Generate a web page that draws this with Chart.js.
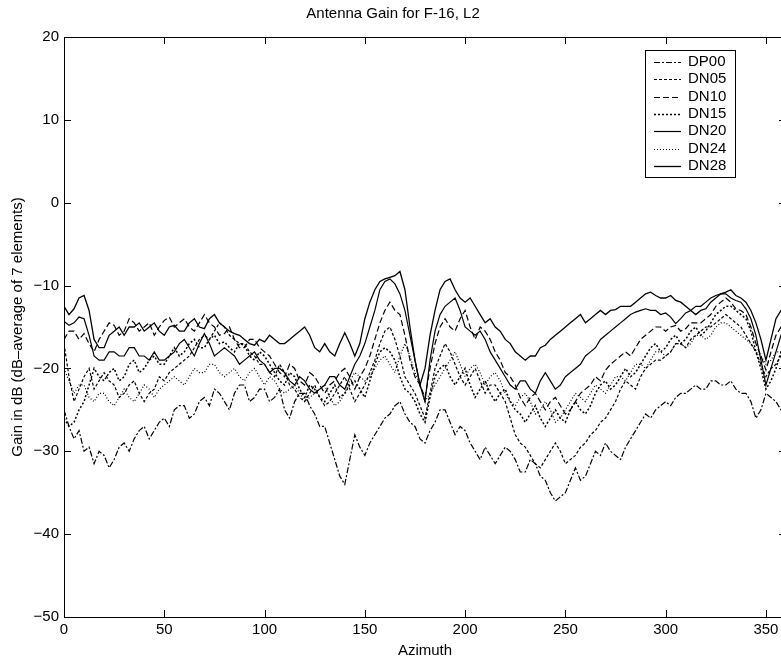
<!DOCTYPE html>
<html lang="en">
<head>
  <meta charset="UTF-8">
  <title>Antenna Gain for F-16, L2</title>
  <script src="https://cdn.jsdelivr.net/npm/chart.js"></script>
  <style>
    html, body {
      margin: 0;
      padding: 0;
      background: #fff;
      width: 781px;
      height: 662px;
      overflow: hidden;
    }
    #wrap {
      width: 800px;
      height: 662px;
    }
  </style>
</head>
<body>
  <div id="wrap">
    <canvas id="gainChart" width="800" height="662"></canvas>
  </div>
  <script>
    // azimuth sampling grid, degrees (every 2.5 deg)
    const azimuth = Array.from({ length: 145 }, (_, i) => i * 2.5);

    const xTicks = [0, 50, 100, 150, 200, 250, 300, 350];
    const yTicks = [-50, -40, -30, -20, -10, 0, 10, 20];

    const labels = ['DP00', 'DN05', 'DN10', 'DN15', 'DN20', 'DN24', 'DN28'];

    // gain in dB, one row = 50 deg
    const dp00 = [
      -25, -27, -28.5, -27.5, -30, -29.5, -31.5, -30, -30.5, -32, -31, -29.5, -29, -30, -28.5, -27.5, -27, -28.5, -27.5, -26.5,
      -26, -27, -25, -24.5, -24.5, -26, -25.5, -24, -23.5, -24.5, -22.5, -23, -24, -25, -23, -22, -22, -24, -23.5, -22.5,
      -22.5, -24, -23.5, -22.5, -25, -26, -24, -23, -23, -24.5, -25.5, -27, -27, -29, -31, -33, -34, -31, -28, -29.5,
      -30.5, -29, -28, -27, -26, -25.5, -24.5, -24, -25.5, -26.5, -27, -28.5, -29, -27.5, -26.5, -25, -25, -26.5, -28, -27,
      -27.5, -29, -30, -31, -29.5, -30.5, -31.5, -30.5, -29.5, -30, -31, -32.5, -32.5, -31, -31.5, -33, -33.5, -35, -36, -35.5,
      -35, -33.5, -32, -33.5, -33, -31.5, -30, -30.5, -29, -30, -30.5, -31, -29.5, -28.5, -27.5, -26.5, -25.5, -26, -25, -24.5,
      -24, -24.5, -23.5, -23, -23, -22.5, -22, -22.5, -22.5, -21.5, -21.5, -22, -22, -21.5, -22.5, -23, -23, -24, -26, -25,
      -23, -23.5, -24, -25, -24.5];
    const dn05 = [
      -17, -21, -24, -22.5, -21, -20, -22.5, -21.5, -20.5, -21.5, -22, -23.5, -23, -22, -21.5, -23, -24, -23, -22.5, -21,
      -21.5, -20.5, -20, -19.5, -19, -18.5, -17.5, -16.5, -16, -16.5, -15.5, -14.5, -15, -16, -16.5, -17, -17, -18, -18.5, -19.5,
      -19.5, -20.5, -21, -19.5, -20.5, -22, -22.5, -23.5, -24, -23, -22, -23.5, -24.5, -24, -23, -22, -21, -22.5, -24, -23,
      -22, -20.5, -19, -17, -15.5, -15, -16.5, -18.5, -21, -22, -23, -24.5, -26, -23, -20, -18.5, -17, -18, -19.5, -21,
      -22, -21, -20, -21.5, -23, -22, -22, -23, -24, -26, -28, -29, -29.5, -30.5, -31.5, -32, -31, -30, -29, -30,
      -31.5, -31, -30.5, -29.5, -29, -28, -27.5, -26.5, -26, -25, -24, -22.5, -21.5, -22, -22.5, -21, -20, -19.5, -19, -19,
      -18.5, -18, -17, -17, -17.5, -16.5, -16, -15.5, -15, -15, -14.5, -14, -13.5, -14, -14.5, -15, -16, -17, -18, -19.5,
      -21, -20, -19.5, -18.5, -18];
    const dn10 = [
      -16.5, -15.5, -15.5, -16.5, -15.8, -17, -18, -16.5, -15.5, -14.5, -14.8, -16, -15.5, -14, -14.5, -15.5, -15, -14.5, -16, -15,
      -14.2, -13.8, -15, -14.5, -14, -15, -15.5, -14.5, -13.5, -14.5, -15, -16, -15.8, -15, -16.5, -17.5, -17.5, -16.5, -16.5, -17.5,
      -18, -18.5, -19.5, -20.5, -21, -19.5, -20, -21.5, -22, -20.5, -21, -22, -23, -22, -21.5, -20.5, -20, -21, -22.5, -21,
      -20, -18.5, -16.5, -14.5, -13, -12, -13, -13.5, -16, -19, -21, -22, -23.5, -20, -17, -15, -14, -15, -15.5, -14,
      -13, -15, -16.5, -15, -15.5, -16.5, -18, -19, -20.5, -21, -22, -23.5, -24.5, -23.5, -23, -24, -25, -24, -23.5, -24.5,
      -25.5, -25, -24, -23, -22.5, -22, -21, -21.5, -20.2, -19.5, -19, -18.5, -18, -18.5, -17.5, -16.5, -16, -15.5, -15, -15,
      -15.5, -15, -14.8, -15.5, -15.2, -14.5, -14.5, -14.5, -14, -13.5, -12.5, -12, -11.5, -12, -12.8, -13, -13.5, -15, -17, -18.5,
      -20.2, -18, -16, -15, -15.3];
    const dn15 = [
      -26, -27, -26.5, -25, -24, -22, -20, -21, -21.5, -20.5, -20, -21.5, -21, -19.5, -19, -20.5, -20, -19, -18.5, -19.5,
      -19.5, -18.5, -17.5, -18.5, -18, -17, -16.5, -17.5, -17.5, -16.5, -16, -17, -16.8, -17.5, -18, -17, -17.2, -18.5, -19, -18,
      -18.5, -19.5, -20.5, -21.5, -22, -20.5, -21, -22.5, -23.5, -22, -22.5, -23.5, -24, -23, -22, -23.5, -23, -22, -21.5, -22.5,
      -23.5, -21.5, -19.5, -18, -17.5, -18, -19, -21, -22.5, -23, -24, -25.5, -26.5, -23.5, -21, -20, -19.5, -21, -22, -21,
      -20, -22, -23.5, -22.5, -21.5, -23, -24, -23, -22.5, -24, -25, -25.5, -26.5, -25.5, -24.5, -26, -27, -26, -25, -26,
      -26.5, -25, -24, -25, -25.5, -24.5, -23, -22, -21.5, -22.5, -22, -21, -20, -21, -20.5, -19.5, -18.5, -17.5, -17, -18,
      -17.5, -16.5, -16, -17, -16.5, -15.5, -15, -16, -15.5, -14.5, -13.5, -13, -12.5, -12.5, -13, -13.5, -14, -15.5, -18, -20,
      -22.5, -21.5, -20, -18, -17];
    const dn20 = [
      -14.3, -14.8, -14.5, -13.8, -14, -16, -18.5, -19, -19, -18, -18, -18.5, -18.5, -17.5, -17.5, -18.5, -18.5, -19, -18, -19,
      -19, -18.5, -18, -17, -16.5, -17.5, -18.5, -17, -15.8, -17, -18.5, -18, -17.5, -18, -18.5, -19.5, -19, -18.5, -18, -19,
      -19.5, -20.5, -20, -20, -20.5, -21.5, -22, -21, -21.5, -22.5, -23, -22.5, -22, -21, -21, -22, -22.5, -21, -19.5, -18.5,
      -17, -15, -13, -10.5, -9.5, -9.2, -9.8, -11, -13, -16, -19, -22, -24, -19, -15.5, -13.5, -12.5, -12, -11.5, -13,
      -15, -15.5, -16, -15.5, -16.5, -18, -19, -20, -21, -22, -22.5, -21.5, -21.5, -22.5, -23, -21.5, -20.5, -21.5, -22.5, -22,
      -21, -20.5, -20, -19.5, -18.5, -18, -17.5, -16.5, -16, -15.5, -15, -14.5, -14, -13.5, -13.2, -13, -12.8, -13, -13, -13.5,
      -13.3, -13.8, -14.6, -14, -13.3, -13, -12.5, -12.5, -12, -11.5, -11.2, -11, -11, -11.5, -11.8, -12, -12.8, -14, -16, -19,
      -22, -20, -18, -16, -15];
    const dn24 = [
      -20, -21.5, -23, -22, -22, -23.5, -24, -23, -23, -24, -24.5, -23.5, -22.5, -23.5, -24, -23, -22, -22.5, -23.5, -22.5,
      -22, -21.5, -21, -21.5, -22, -21, -20, -20.5, -20.5, -19.5, -19.5, -20.5, -21, -20.5, -20, -21, -21.5, -20.5, -20, -21,
      -22, -21, -21.5, -22.5, -23, -22.5, -22, -23, -24, -23.5, -23, -22.5, -22, -23.5, -24.5, -24, -23, -21.5, -20.5, -21,
      -21.5, -21, -20, -19, -18.5, -19.5, -20.5, -18.5, -17, -18.5, -20.5, -22, -24, -23, -22, -21, -20, -19, -18, -19.5,
      -21, -20, -19.5, -20.5, -22, -21, -20.5, -21.5, -23, -24, -24.5, -23.5, -23, -24, -25.5, -25, -24, -25, -26.5, -26,
      -25, -24, -23, -23.5, -24, -23, -22, -22.5, -23, -22, -21, -21, -21.5, -20.5, -19.5, -19.5, -20, -19, -18, -18,
      -18.5, -18, -17, -17, -17.5, -17, -16, -16, -16.5, -16, -15, -14.5, -14.5, -15, -15.5, -16, -16.5, -17, -18, -18.5,
      -19.5, -19, -18, -18, -18];
    const dn28 = [
      -12.5, -13.5, -12.8, -11.5, -11.2, -13, -16.5, -17.5, -17.5, -16, -15.5, -15, -16, -15, -15, -14.5, -15.5, -15, -14.5, -15.5,
      -16, -15, -14.8, -15.5, -15.5, -14.5, -14, -15, -15.2, -14, -13.5, -14.5, -15, -15.5, -15.8, -16, -16.5, -17, -17.2, -16.5,
      -16.8, -16, -16.5, -17, -17, -16.5, -16, -15.5, -15, -16, -17.5, -18, -17, -18, -18.5, -17, -15.7, -17, -18.5, -17,
      -14, -12, -10.5, -9.5, -9.2, -9, -8.8, -8.3, -10.5, -15, -19, -22, -20, -16, -13, -10.5, -9.5, -9.2, -10.5, -11.5,
      -12, -11.5, -12.5, -13.5, -14.5, -14, -15, -15.5, -16.5, -17, -18, -18.5, -19, -18.5, -18.5, -17.5, -17.2, -16.5, -16, -15.5,
      -15, -14.5, -14, -13.5, -14.5, -14, -13.5, -13, -13.5, -13, -12.9, -12.5, -12.5, -12.5, -12, -11.5, -11, -10.8, -11.2, -11.5,
      -11.5, -11.2, -11.8, -12, -12.5, -13, -13.5, -13, -12.8, -12, -11.5, -11, -10.8, -10.5, -11.2, -11.5, -12, -13, -14.5, -16.5,
      -19, -16.5, -14, -13, -12.5];

    const series = [dp00, dn05, dn10, dn15, dn20, dn24, dn28];
    const dashes = [[6, 2, 2, 2], [3, 2], [6, 3], [2, 2], [], [1, 2], []];
    const widths = [1.2, 1.2, 1.2, 1.5, 1.2, 1.2, 1.3];

    const font = "'Liberation Sans', Arial, sans-serif";

    // box, inward ticks and the legend, matlab style
    const matlabBox = {
      id: 'matlabBox',
      afterDatasetsDraw(chart) {
        const { ctx, chartArea: a, scales: { x, y } } = chart;
        ctx.save();
        ctx.strokeStyle = '#000';
        ctx.lineWidth = 1;
        ctx.setLineDash([]);
        ctx.strokeRect(a.left + 0.5, a.top + 0.5, a.right - a.left, a.bottom - a.top);
        const len = 7;
        ctx.beginPath();
        xTicks.forEach(v => {
          const px = Math.round(x.getPixelForValue(v)) + 0.5;
          ctx.moveTo(px, a.bottom); ctx.lineTo(px, a.bottom - len);
          ctx.moveTo(px, a.top); ctx.lineTo(px, a.top + len);
        });
        yTicks.forEach(v => {
          const py = Math.round(y.getPixelForValue(v)) + 0.5;
          ctx.moveTo(a.left, py); ctx.lineTo(a.left + len, py);
          ctx.moveTo(a.right, py); ctx.lineTo(a.right - len, py);
        });
        ctx.stroke();

        // legend
        const bx = 645, by = 50, bw = 90, bh = 127, row = 17.3;
        ctx.fillStyle = '#fff';
        ctx.fillRect(bx, by, bw, bh);
        ctx.strokeRect(bx + 0.5, by + 0.5, bw, bh);
        ctx.font = '15px ' + font;
        ctx.textBaseline = 'middle';
        ctx.fillStyle = '#000';
        labels.forEach((lab, i) => {
          const ly = by + 12 + i * row;
          ctx.setLineDash(dashes[i]);
          ctx.lineWidth = widths[i];
          ctx.beginPath();
          ctx.moveTo(bx + 9, Math.round(ly) + 0.5);
          ctx.lineTo(bx + 36, Math.round(ly) + 0.5);
          ctx.stroke();
          ctx.fillText(lab, bx + 43, ly);
        });
        ctx.restore();
      }
    };

    new Chart(document.getElementById('gainChart'), {
      type: 'line',
      data: {
        datasets: labels.map((lab, i) => ({
          label: lab,
          data: azimuth.map((az, j) => ({ x: az, y: series[i][j] })),
          borderColor: '#000',
          borderWidth: widths[i],
          borderDash: dashes[i],
          pointRadius: 0,
          tension: 0,
          fill: false
        }))
      },
      options: {
        responsive: false,
        animation: false,
        events: [],
        layout: { padding: { left: 0, top: 0, right: 14, bottom: 0 } },
        plugins: {
          legend: { display: false },
          tooltip: { enabled: false },
          title: {
            display: true,
            text: 'Antenna Gain for F-16, L2',
            color: '#000',
            font: { family: font, size: 15, weight: 'normal' },
            padding: { top: 5, bottom: 14 }
          }
        },
        scales: {
          x: {
            type: 'linear',
            min: 0,
            max: 360,
            afterBuildTicks: s => { s.ticks = xTicks.map(v => ({ value: v })); },
            afterFit: s => { s.height = 45; },
            grid: { display: false, drawTicks: false },
            border: { display: true, color: '#000', width: 1 },
            ticks: { color: '#000', padding: 4, maxRotation: 0, font: { family: font, size: 15 } },
            title: {
              display: true,
              text: 'Azimuth',
              color: '#000',
              font: { family: font, size: 15 },
              padding: { top: 0, bottom: 2 }
            }
          },
          y: {
            min: -50,
            max: 20,
            afterBuildTicks: s => { s.ticks = yTicks.map(v => ({ value: v })); },
            afterFit: s => { s.width = 64; },
            grid: { display: false, drawTicks: false },
            border: { display: true, color: '#000', width: 1 },
            ticks: {
              color: '#000',
              padding: 5,
              font: { family: font, size: 15 },
              callback: v => String(v).replace('-', '\u2212')
            },
            title: {
              display: true,
              text: 'Gain in dB (dB\u2013average of 7 elements)',
              color: '#000',
              font: { family: font, size: 15 },
              padding: { top: 9, bottom: 0 }
            }
          }
        }
      },
      plugins: [matlabBox]
    });
  </script>
</body>
</html>
